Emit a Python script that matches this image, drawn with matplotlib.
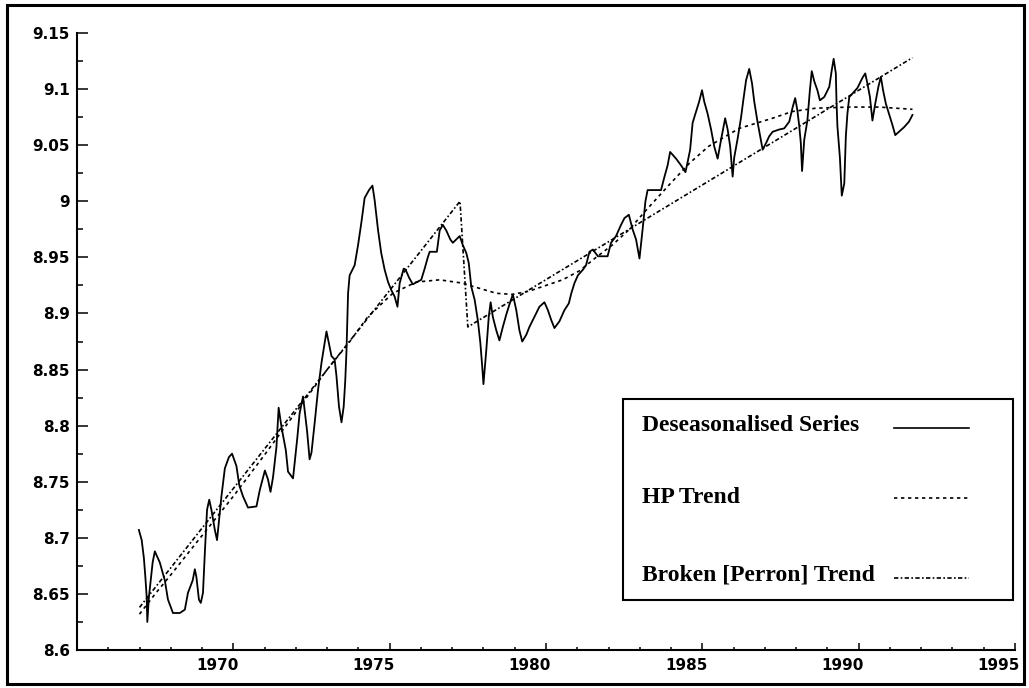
import matplotlib.pyplot as plt
import numpy as np
from matplotlib.patches import Rectangle
from matplotlib.lines import Line2D
from matplotlib.transforms import ScaledTranslation

# deseasonalised series (year, log level)
series = [
    (1966.98, 8.707), (1967.07, 8.698), (1967.14, 8.682), (1967.19, 8.664), (1967.23, 8.647),
    (1967.25, 8.625), (1967.30, 8.647), (1967.42, 8.678), (1967.49, 8.688), (1967.65, 8.678),
    (1967.81, 8.662), (1967.91, 8.645), (1968.07, 8.633), (1968.29, 8.633), (1968.45, 8.636),
    (1968.55, 8.651), (1968.70, 8.662), (1968.77, 8.672), (1968.82, 8.665), (1968.90, 8.645),
    (1968.96, 8.642), (1969.03, 8.651), (1969.09, 8.687), (1969.16, 8.725), (1969.23, 8.734),
    (1969.30, 8.725), (1969.41, 8.707), (1969.48, 8.698), (1969.62, 8.737), (1969.73, 8.762),
    (1969.86, 8.772), (1969.96, 8.775), (1970.10, 8.764), (1970.19, 8.747), (1970.31, 8.737),
    (1970.47, 8.727), (1970.74, 8.728), (1970.85, 8.743), (1971.01, 8.760), (1971.11, 8.752),
    (1971.19, 8.741), (1971.27, 8.754), (1971.38, 8.781), (1971.45, 8.816), (1971.54, 8.799),
    (1971.68, 8.778), (1971.75, 8.759), (1971.91, 8.753), (1972.05, 8.790), (1972.12, 8.811),
    (1972.23, 8.826), (1972.36, 8.795), (1972.44, 8.770), (1972.50, 8.776), (1972.60, 8.802),
    (1972.71, 8.832), (1972.82, 8.856), (1972.98, 8.884), (1973.14, 8.862), (1973.24, 8.859),
    (1973.30, 8.844), (1973.38, 8.817), (1973.46, 8.803), (1973.53, 8.817), (1973.58, 8.840),
    (1973.62, 8.867), (1973.67, 8.918), (1973.72, 8.934), (1973.88, 8.943), (1973.99, 8.961),
    (1974.10, 8.982), (1974.20, 9.003), (1974.34, 9.010), (1974.45, 9.014), (1974.52, 9.001),
    (1974.63, 8.974), (1974.73, 8.954), (1974.84, 8.939), (1974.95, 8.928), (1975.05, 8.921),
    (1975.16, 8.915), (1975.25, 8.906), (1975.32, 8.927), (1975.45, 8.940), (1975.51, 8.939),
    (1975.62, 8.932), (1975.74, 8.926), (1975.87, 8.928), (1976.01, 8.930), (1976.12, 8.940),
    (1976.22, 8.950), (1976.28, 8.955), (1976.51, 8.955), (1976.60, 8.974), (1976.70, 8.979),
    (1976.81, 8.974), (1976.94, 8.966), (1977.02, 8.963), (1977.24, 8.969), (1977.34, 8.961),
    (1977.45, 8.954), (1977.53, 8.945), (1977.61, 8.924), (1977.72, 8.912), (1977.82, 8.894),
    (1977.90, 8.874), (1977.96, 8.853), (1978.00, 8.837), (1978.09, 8.867), (1978.17, 8.897),
    (1978.23, 8.910), (1978.30, 8.897), (1978.41, 8.885), (1978.51, 8.876), (1978.62, 8.888),
    (1978.73, 8.899), (1978.83, 8.908), (1978.94, 8.917), (1979.05, 8.903), (1979.15, 8.885),
    (1979.24, 8.875), (1979.37, 8.881), (1979.47, 8.888), (1979.63, 8.897), (1979.79, 8.906),
    (1979.95, 8.910), (1980.06, 8.903), (1980.17, 8.894), (1980.27, 8.887), (1980.43, 8.893),
    (1980.59, 8.903), (1980.73, 8.909), (1980.81, 8.918), (1980.91, 8.927), (1981.02, 8.934),
    (1981.18, 8.939), (1981.28, 8.943), (1981.39, 8.955), (1981.50, 8.957), (1981.66, 8.951),
    (1981.97, 8.951), (1982.08, 8.963), (1982.24, 8.969), (1982.40, 8.979), (1982.51, 8.985),
    (1982.65, 8.988), (1982.77, 8.975), (1982.88, 8.966), (1982.99, 8.949), (1983.09, 8.975),
    (1983.18, 9.000), (1983.25, 9.010), (1983.68, 9.010), (1983.79, 9.022), (1983.89, 9.032),
    (1983.97, 9.044), (1984.16, 9.038), (1984.32, 9.032), (1984.46, 9.026), (1984.53, 9.035),
    (1984.61, 9.046), (1984.69, 9.070), (1984.80, 9.080), (1984.90, 9.089), (1984.99, 9.099),
    (1985.06, 9.089), (1985.17, 9.078), (1985.28, 9.064), (1985.38, 9.049), (1985.49, 9.038),
    (1985.60, 9.055), (1985.73, 9.074), (1985.81, 9.064), (1985.89, 9.049), (1985.97, 9.022),
    (1986.02, 9.039), (1986.13, 9.056), (1986.24, 9.075), (1986.31, 9.090), (1986.40, 9.108),
    (1986.50, 9.118), (1986.59, 9.105), (1986.66, 9.089), (1986.77, 9.070), (1986.85, 9.058),
    (1986.93, 9.046), (1987.04, 9.052), (1987.14, 9.058), (1987.25, 9.062), (1987.46, 9.064),
    (1987.62, 9.065), (1987.78, 9.071), (1987.89, 9.084), (1987.97, 9.092), (1988.04, 9.081),
    (1988.10, 9.067), (1988.15, 9.052), (1988.19, 9.027), (1988.26, 9.055), (1988.36, 9.072),
    (1988.44, 9.099), (1988.50, 9.116), (1988.58, 9.107), (1988.68, 9.099), (1988.76, 9.090),
    (1988.90, 9.093), (1989.06, 9.102), (1989.14, 9.117), (1989.20, 9.127), (1989.27, 9.114),
    (1989.29, 9.090), (1989.32, 9.067), (1989.40, 9.039), (1989.46, 9.005), (1989.54, 9.016),
    (1989.59, 9.058), (1989.64, 9.078), (1989.70, 9.093), (1989.80, 9.096), (1989.96, 9.101),
    (1990.12, 9.110), (1990.21, 9.114), (1990.28, 9.105), (1990.36, 9.093), (1990.44, 9.072),
    (1990.53, 9.087), (1990.63, 9.102), (1990.71, 9.111), (1990.78, 9.099), (1990.87, 9.087),
    (1990.97, 9.078), (1991.08, 9.068), (1991.17, 9.059), (1991.29, 9.062), (1991.45, 9.066),
    (1991.61, 9.071), (1991.72, 9.077),
]

hp_trend = [
    (1967.00, 8.632), (1967.50, 8.650), (1968.00, 8.667), (1969.00, 8.702), (1970.00, 8.737),
    (1971.00, 8.774), (1972.00, 8.812), (1973.00, 8.850), (1973.70, 8.874), (1974.30, 8.897),
    (1975.10, 8.918), (1975.85, 8.928), (1976.60, 8.930), (1977.34, 8.927), (1977.56, 8.925),
    (1978.41, 8.918), (1978.93, 8.917), (1979.47, 8.920), (1980.00, 8.925), (1980.53, 8.930),
    (1981.07, 8.938), (1981.60, 8.950), (1982.12, 8.961), (1982.67, 8.975), (1983.20, 8.992),
    (1983.95, 9.015), (1984.59, 9.034), (1985.20, 9.049), (1986.18, 9.065), (1987.24, 9.074),
    (1987.87, 9.080), (1988.63, 9.083), (1989.70, 9.084), (1990.65, 9.084), (1991.72, 9.082),
]

perron_trend = [(1967.00, 8.638), (1977.25, 9.000), (1977.50, 8.888), (1991.72, 9.128)]

x_ticks = [1970, 1975, 1980, 1985, 1990, 1995]
x_labels = ["1970", "1975", "1980", "1985", "1990", "1995"]
y_ticks = [8.6, 8.65, 8.7, 8.75, 8.8, 8.85, 8.9, 8.95, 9.0, 9.05, 9.1, 9.15]
y_labels = ["8.6", "8.65", "8.7", "8.75", "8.8", "8.85", "8.9", "8.95",
            "9", "9.05", "9.1", "9.15"]
legend_labels = ["Deseasonalised Series", "HP Trend", "Broken [Perron] Trend"]

fig = plt.figure(figsize=(10.29, 6.88), dpi=100)
ax = fig.add_axes([0.0748, 0.0552, 0.9116, 0.8968])

sx, sy = zip(*series)
hx, hy = zip(*hp_trend)
px, py = zip(*perron_trend)

ax.plot(sx, sy, color="black", lw=1.3)
ax.plot(hx, hy, color="black", lw=1.2, dashes=(2.0, 2.2))
ax.plot(px, py, color="black", lw=1.2, dashes=(2.6, 1.4, 1.0, 1.4))

ax.set_xlim(1965, 1995)
ax.set_ylim(8.6, 9.15)

ax.set_xticks(x_ticks)
ax.set_xticks(np.arange(1966, 1995), minor=True)
ax.set_yticks(y_ticks)
ax.set_yticks(np.arange(8.625, 9.15, 0.05), minor=True)
ax.set_xticklabels(x_labels)
ax.set_yticklabels(y_labels)

ax.tick_params(which="both", direction="in", width=1.1, labelsize=11)
ax.tick_params(axis="y", which="major", length=8, pad=5)
ax.tick_params(axis="y", which="minor", length=4.5)
ax.tick_params(axis="x", which="major", length=5, pad=6)
ax.tick_params(axis="x", which="minor", length=2)

shift = ScaledTranslation(0.05, 0, fig.dpi_scale_trans)
for lbl in ax.get_xticklabels():
    lbl.set_horizontalalignment("right")
    lbl.set_transform(lbl.get_transform() + shift)
for lbl in ax.get_xticklabels() + ax.get_yticklabels():
    lbl.set_fontweight("bold")
    lbl.set_fontfamily("DejaVu Sans")

ax.spines[["top", "right"]].set_visible(False)
ax.spines[["left", "bottom"]].set_linewidth(1.5)

# legend box drawn by hand: labels left, samples on the right
ax.add_patch(Rectangle((0.582, 0.081), 0.416, 0.326, transform=ax.transAxes,
                       facecolor="white", edgecolor="black", lw=1.5, zorder=5))
text_y = [0.3647, 0.248, 0.1216]
line_y = [0.3598, 0.246, 0.1167]
styles = [dict(ls="-"), dict(dashes=(2.0, 2.2)), dict(dashes=(2.6, 1.4, 1.0, 1.4))]
for label, ty, ly, st in zip(legend_labels, text_y, line_y, styles):
    ax.text(0.6023, ty, label, transform=ax.transAxes, ha="left", va="center",
            fontfamily="Liberation Serif", fontweight="bold", fontsize=17, zorder=6)
    ax.add_line(Line2D([0.871, 0.951], [ly, ly], transform=ax.transAxes,
                       color="black", lw=1.2, zorder=6, **st))

# outer frame round the whole picture
fig.add_artist(Rectangle((0.0068, 0.0058), 0.988, 0.987, transform=fig.transFigure,
                         fill=False, edgecolor="black", lw=2.2))

fig.savefig("out.png", dpi=100)
